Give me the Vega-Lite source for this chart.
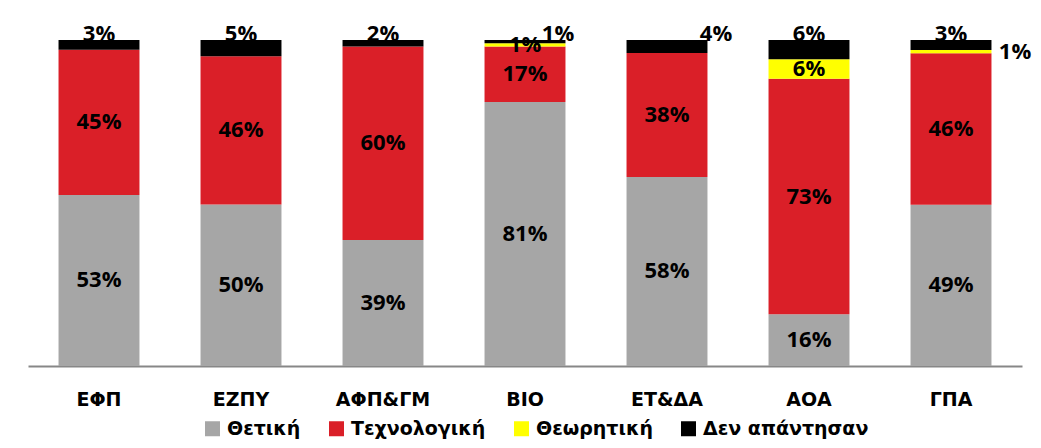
{
  "$schema": "https://vega.github.io/schema/vega-lite/v6.json",
  "width": 994,
  "height": 326,
  "autosize": {"type": "none"},
  "padding": {"left": 28, "top": 40, "right": 19, "bottom": 82},
  "background": "white",
  "config": {
    "view": {"stroke": null},
    "font": "Open Sans",
    "text": {"font": "Open Sans", "fontWeight": "bold", "fontSize": 22, "color": "black"}
  },
  "data": {
    "values": [
      {"cat": "ΕΦΠ", "s": "Θετική", "k": 1, "v": 53},
      {"cat": "ΕΦΠ", "s": "Τεχνολογική", "k": 2, "v": 45},
      {"cat": "ΕΦΠ", "s": "Θεωρητική", "k": 3, "v": 0},
      {"cat": "ΕΦΠ", "s": "Δεν απάντησαν", "k": 4, "v": 3},
      {"cat": "ΕΖΠΥ", "s": "Θετική", "k": 1, "v": 50},
      {"cat": "ΕΖΠΥ", "s": "Τεχνολογική", "k": 2, "v": 46},
      {"cat": "ΕΖΠΥ", "s": "Θεωρητική", "k": 3, "v": 0},
      {"cat": "ΕΖΠΥ", "s": "Δεν απάντησαν", "k": 4, "v": 5},
      {"cat": "ΑΦΠ&ΓΜ", "s": "Θετική", "k": 1, "v": 39},
      {"cat": "ΑΦΠ&ΓΜ", "s": "Τεχνολογική", "k": 2, "v": 60},
      {"cat": "ΑΦΠ&ΓΜ", "s": "Θεωρητική", "k": 3, "v": 0},
      {"cat": "ΑΦΠ&ΓΜ", "s": "Δεν απάντησαν", "k": 4, "v": 2},
      {"cat": "ΒΙΟ", "s": "Θετική", "k": 1, "v": 81},
      {"cat": "ΒΙΟ", "s": "Τεχνολογική", "k": 2, "v": 17},
      {"cat": "ΒΙΟ", "s": "Θεωρητική", "k": 3, "v": 1},
      {"cat": "ΒΙΟ", "s": "Δεν απάντησαν", "k": 4, "v": 1},
      {"cat": "ΕΤ&ΔΑ", "s": "Θετική", "k": 1, "v": 58},
      {"cat": "ΕΤ&ΔΑ", "s": "Τεχνολογική", "k": 2, "v": 38},
      {"cat": "ΕΤ&ΔΑ", "s": "Θεωρητική", "k": 3, "v": 0},
      {"cat": "ΕΤ&ΔΑ", "s": "Δεν απάντησαν", "k": 4, "v": 4},
      {"cat": "ΑΟΑ", "s": "Θετική", "k": 1, "v": 16},
      {"cat": "ΑΟΑ", "s": "Τεχνολογική", "k": 2, "v": 73},
      {"cat": "ΑΟΑ", "s": "Θεωρητική", "k": 3, "v": 6},
      {"cat": "ΑΟΑ", "s": "Δεν απάντησαν", "k": 4, "v": 6},
      {"cat": "ΓΠΑ", "s": "Θετική", "k": 1, "v": 49},
      {"cat": "ΓΠΑ", "s": "Τεχνολογική", "k": 2, "v": 46},
      {"cat": "ΓΠΑ", "s": "Θεωρητική", "k": 3, "v": 1},
      {"cat": "ΓΠΑ", "s": "Δεν απάντησαν", "k": 4, "v": 3}
    ]
  },
  "transform": [
    {"stack": "v", "groupby": ["cat"], "sort": [{"field": "k", "order": "ascending"}], "offset": "normalize", "as": ["y0", "y1"]},
    {"calculate": "(datum.y0 + datum.y1) / 2", "as": "ym"},
    {"calculate": "datum.v + '%'", "as": "lab"}
  ],
  "encoding": {
    "x": {
      "field": "cat",
      "type": "nominal",
      "sort": null,
      "scale": {"paddingInner": 0.43, "paddingOuter": 0.215},
      "axis": {
        "title": null,
        "ticks": false,
        "domainColor": "#878787",
        "domainWidth": 2,
        "labelAngle": 0,
        "labelFont": "DejaVu Sans",
        "labelFontWeight": "bold",
        "labelFontSize": 19,
        "labelColor": "black",
        "labelPadding": 24,
        "grid": false
      }
    }
  },
  "layer": [
    {
      "mark": {"type": "bar"},
      "encoding": {
        "y": {"field": "y1", "type": "quantitative", "scale": {"domain": [0, 1]}, "axis": null},
        "y2": {"field": "y0"},
        "color": {
          "field": "s",
          "type": "nominal",
          "scale": {
            "domain": ["Θετική", "Τεχνολογική", "Θεωρητική", "Δεν απάντησαν"],
            "range": ["#A6A6A6", "#DA1F28", "#FFFF00", "#000000"]
          },
          "legend": {
            "title": null,
            "orient": "none",
            "direction": "horizontal",
            "legendX": 175,
            "legendY": 379,
            "symbolType": "square",
            "symbolSize": 225,
            "symbolStrokeWidth": 0,
            "labelFont": "DejaVu Sans",
            "labelFontWeight": "bold",
            "labelFontSize": 19,
            "labelColor": "black",
            "labelOffset": 5,
            "labelLimit": 400,
            "columnPadding": 26
          }
        }
      }
    },
    {
      "transform": [{"filter": "datum.k <= 2 || (datum.k == 3 && datum.v > 0 && datum.cat != 'ΓΠΑ')"}],
      "mark": {"type": "text", "baseline": "middle"},
      "encoding": {
        "y": {"field": "ym", "type": "quantitative"},
        "text": {"field": "lab"}
      }
    },
    {
      "transform": [{"filter": "datum.k == 3 && datum.cat == 'ΓΠΑ'"}],
      "mark": {"type": "text", "baseline": "middle", "dx": 64},
      "encoding": {
        "y": {"field": "ym", "type": "quantitative"},
        "text": {"field": "lab"}
      }
    },
    {
      "transform": [{"filter": "datum.k == 4 && datum.cat != 'ΒΙΟ' && datum.cat != 'ΕΤ&ΔΑ'"}],
      "mark": {"type": "text", "baseline": "alphabetic", "dy": 1},
      "encoding": {
        "y": {"field": "y1", "type": "quantitative"},
        "text": {"field": "lab"}
      }
    },
    {
      "transform": [{"filter": "datum.k == 4 && datum.cat == 'ΒΙΟ'"}],
      "mark": {"type": "text", "baseline": "alphabetic", "dy": 1, "dx": 33},
      "encoding": {
        "y": {"field": "y1", "type": "quantitative"},
        "text": {"field": "lab"}
      }
    },
    {
      "transform": [{"filter": "datum.k == 4 && datum.cat == 'ΕΤ&ΔΑ'"}],
      "mark": {"type": "text", "baseline": "alphabetic", "dy": 1, "dx": 49},
      "encoding": {
        "y": {"field": "y1", "type": "quantitative"},
        "text": {"field": "lab"}
      }
    }
  ]
}
